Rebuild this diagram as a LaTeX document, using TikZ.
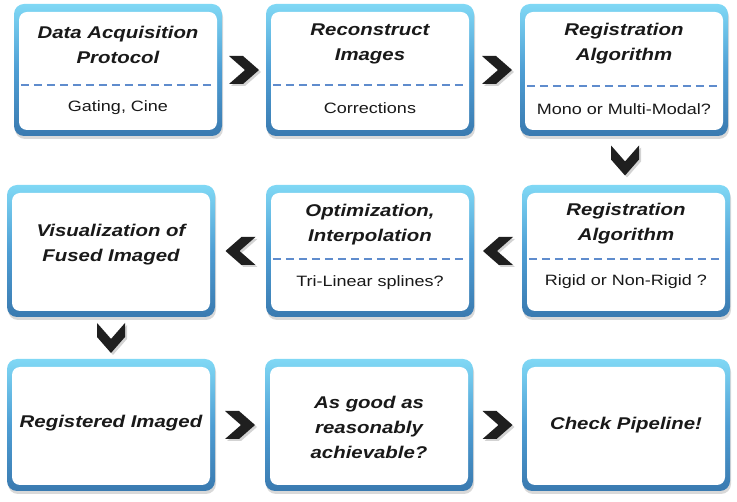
\documentclass[tikz,border=0pt]{standalone}
\usepackage{fontspec}
\setmainfont{Liberation Sans}[FakeStretch=1.2]
\usetikzlibrary{shadows,calc}

\definecolor{rimtop}{RGB}{128,216,245}
\definecolor{rimmid}{RGB}{78,158,212}
\definecolor{rimbot}{RGB}{58,122,176}
\definecolor{dashblue}{RGB}{95,140,205}
\definecolor{inkgrey}{RGB}{25,25,25}

\tikzset{
  stagebox/.style={rounded corners=10pt, minimum width=208pt, minimum height=132pt,
    top color=rimtop, bottom color=rimbot, middle color=rimmid,
    drop shadow={opacity=0.3, shadow xshift=1pt, shadow yshift=-3pt},
    path picture={\fill[white, rounded corners=8pt]
      ([xshift=5pt,yshift=6pt]path picture bounding box.south west) rectangle
      ([xshift=-5pt,yshift=-8pt]path picture bounding box.north east);}},
  headtext/.style={font=\fontsize{17}{25}\selectfont\bfseries\itshape, text=inkgrey, align=center},
  subtext/.style={font=\fontsize{15}{18}\selectfont, text=inkgrey},
  splitline/.style={dashblue, dash pattern=on 8pt off 5pt, line width=1.3pt},
  chevron/.pic={\fill[black!88, drop shadow={opacity=0.35, shadow xshift=2pt, shadow yshift=-2pt}]
    (-15,-14) -- (-1,-14) -- (15,0) -- (-1,14) -- (-15,14) -- (1,0) -- cycle;}
}

\begin{document}
\begin{tikzpicture}[x=1pt, y=-1pt]
  \useasboundingbox (0,0) rectangle (737,502);
  % boxes
  \node[stagebox] (daq)        at (118,70)  {};
  \node[stagebox] (recon)      at (370,70)  {};
  \node[stagebox] (regmode)    at (624,70)  {};
  \node[stagebox] (viz)        at (111,251) {};
  \node[stagebox] (optim)      at (370,251) {};
  \node[stagebox] (regrigid)   at (626,251) {};
  \node[stagebox] (registered) at (111,425) {};
  \node[stagebox] (good)       at (369,425) {};
  \node[stagebox] (check)      at (626,425) {};
  % top row
  \node[headtext] (daqhead)   at ($(daq)+(0,-25)$)     {Data Acquisition\\Protocol};
  \node[subtext]  (daqsub)    at ($(daq)+(0,38)$)      {Gating, Cine};
  \draw[splitline] ($(daq.west)+(7,15)$) -- ($(daq.east)+(-7,15)$);
  \node[headtext] (reconhead) at ($(recon)+(0,-26)$)   {Reconstruct\\Images};
  \node[subtext]  (reconsub)  at ($(recon)+(0,38)$)    {Corrections};
  \draw[splitline] ($(recon.west)+(7,15)$) -- ($(recon.east)+(-7,15)$);
  \node[headtext] (modehead)  at ($(regmode)+(0,-26)$) {Registration\\Algorithm};
  \node[subtext]  (modesub)   at ($(regmode)+(0,39)$)  {Mono or Multi-Modal?};
  \draw[splitline] ($(regmode.west)+(7,16)$) -- ($(regmode.east)+(-7,16)$);
  % middle row
  \node[headtext] (vizhead)   at ($(viz)+(0,-6)$)       {Visualization of\\Fused Imaged};
  \node[headtext] (optimhead) at ($(optim)+(0,-26)$)    {Optimization,\\Interpolation};
  \node[subtext]  (optimsub)  at ($(optim)+(0,32)$)     {Tri-Linear splines?};
  \draw[splitline] ($(optim.west)+(7,8)$) -- ($(optim.east)+(-7,8)$);
  \node[headtext] (rigidhead) at ($(regrigid)+(0,-27)$) {Registration\\Algorithm};
  \node[subtext]  (rigidsub)  at ($(regrigid)+(0,31)$)  {Rigid or Non-Rigid ?};
  \draw[splitline] ($(regrigid.west)+(7,8)$) -- ($(regrigid.east)+(-7,8)$);
  % bottom row
  \node[headtext] (reghead)   at ($(registered)+(0,-2)$) {Registered Imaged};
  \node[headtext] (goodhead)  at ($(good)+(0,2)$)        {As good as\\reasonably\\achievable?};
  \node[headtext] (checkhead) at (check)                 {Check Pipeline!};
  % chevrons
  \path (daq.east) -- (recon.west) pic[midway] {chevron};
  \path (recon.east) -- (regmode.west) pic[midway] {chevron};
  \path (regmode.south) -- (regrigid.north) pic[midway, rotate=-90] {chevron};
  \path (regrigid.west) -- (optim.east) pic[midway, rotate=180] {chevron};
  \path (optim.west) -- (viz.east) pic[midway, rotate=180] {chevron};
  \path (viz.south) -- (registered.north) pic[midway, rotate=-90] {chevron};
  \path (registered.east) -- (good.west) pic[midway] {chevron};
  \path (good.east) -- (check.west) pic[midway] {chevron};
\end{tikzpicture}
\end{document}
